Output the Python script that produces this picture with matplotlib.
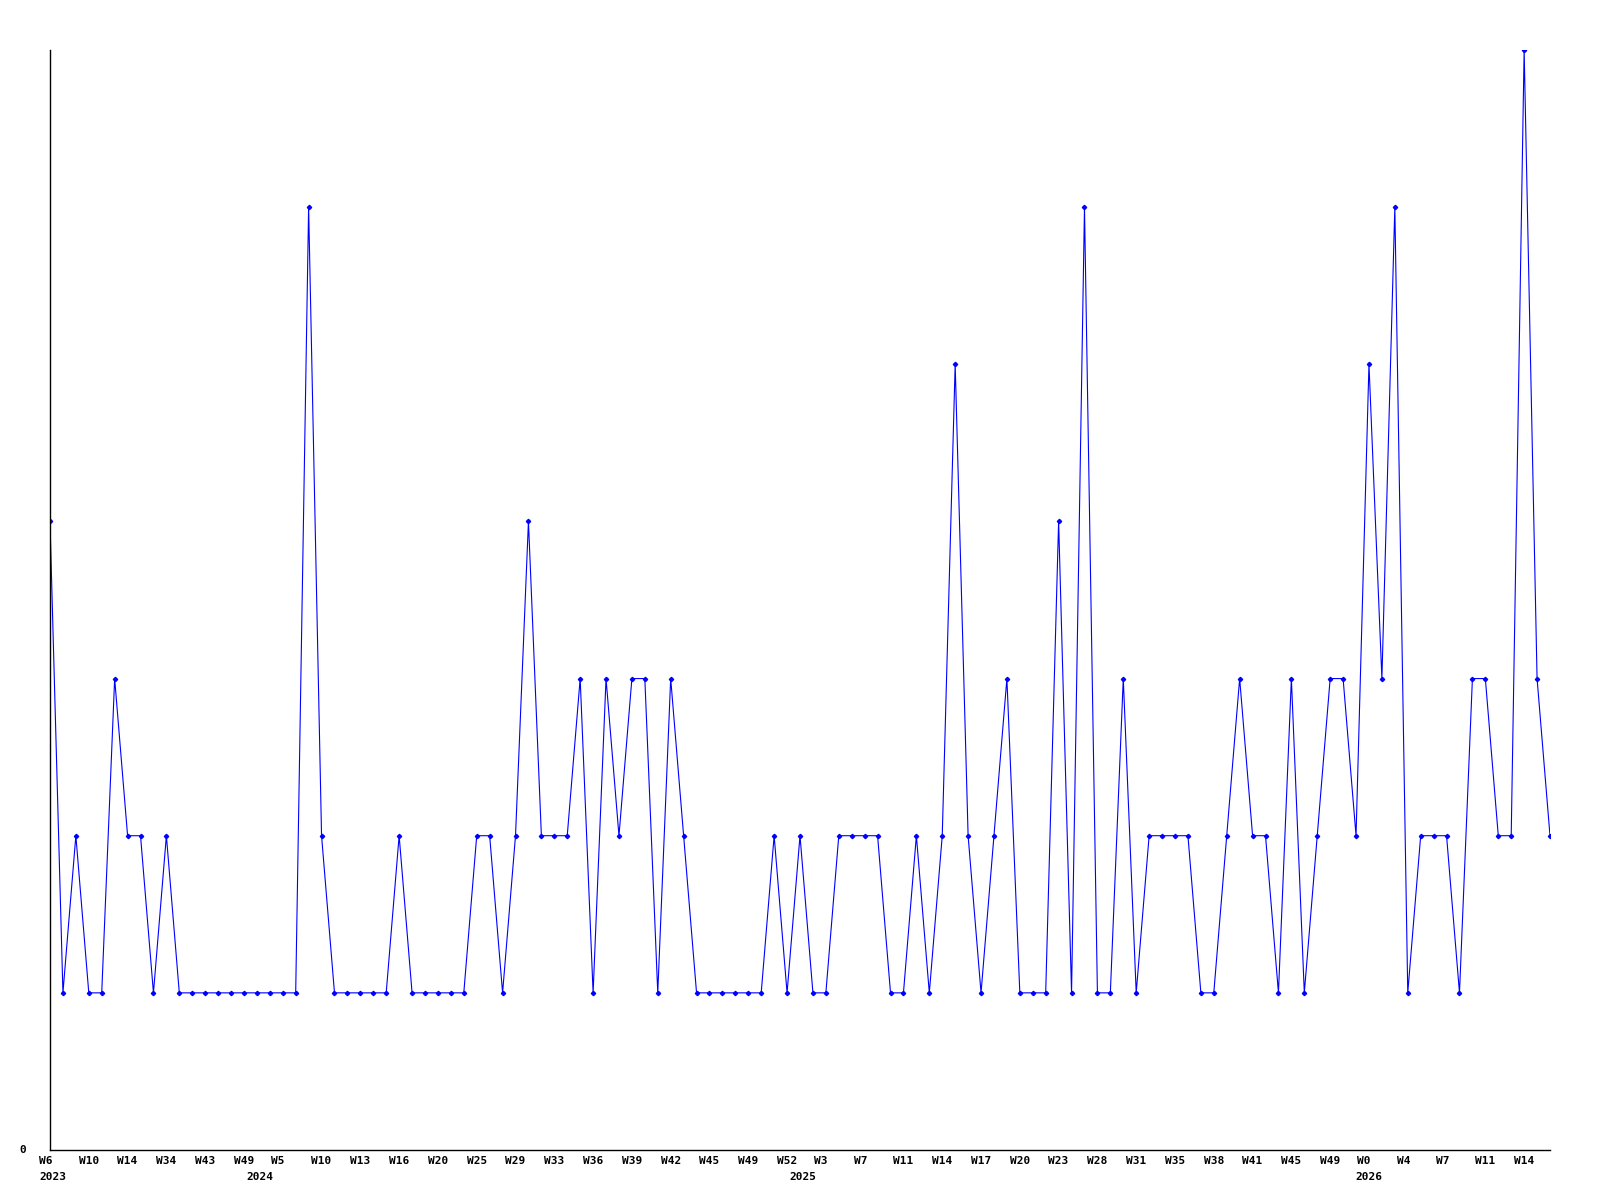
import matplotlib
matplotlib.use("Agg")
import matplotlib.pyplot as plt

# weekly counts, one point per week shown
values = [
    4, 1, 2, 1, 1, 3, 2, 2, 1, 2,
    1, 1, 1, 1, 1, 1, 1, 1, 1, 1,
    6, 2, 1, 1, 1, 1, 1, 2, 1, 1,
    1, 1, 1, 2, 2, 1, 2, 4, 2, 2,
    2, 3, 1, 3, 2, 3, 3, 1, 3, 2,
    1, 1, 1, 1, 1, 1, 2, 1, 2, 1,
    1, 2, 2, 2, 2, 1, 1, 2, 1, 2,
    5, 2, 1, 2, 3, 1, 1, 1, 4, 1,
    6, 1, 1, 3, 1, 2, 2, 2, 2, 1,
    1, 2, 3, 2, 2, 1, 3, 1, 2, 3,
    3, 2, 5, 3, 6, 1, 2, 2, 2, 1,
    3, 3, 2, 2, 7, 3, 2,
]

week_labels = [
    "W6", "W10", "W14", "W34", "W43", "W49", "W5", "W10", "W13", "W16",
    "W20", "W25", "W29", "W33", "W36", "W39", "W42", "W45", "W49", "W52",
    "W3", "W7", "W11", "W14", "W17", "W20", "W23", "W28", "W31", "W35",
    "W38", "W41", "W45", "W49", "W0", "W4", "W7", "W11", "W14",
]
# label positions (in point index), every third point, a bit shifted after new year
week_pos = [
    -0.3, 3, 6, 9, 12, 15, 17.6, 21, 24, 27,
    30, 33, 36, 39, 42, 45, 48, 51, 54, 57,
    59.6, 62.7, 66, 69, 72, 75, 78, 81, 84, 87,
    90, 93, 96, 99, 101.6, 104.7, 107.7, 111, 114,
]
years = ["2023", "2024", "2025", "2026"]
year_pos = [0.2, 16.2, 58.2, 102.0]

x = list(range(len(values)))

fig = plt.figure(figsize=(16, 12), dpi=100)
ax = fig.add_axes([50 / 1600, 50 / 1200, 1500 / 1600, 1100 / 1200])

ax.plot(x, values, color="#0000ff", linewidth=0.8, marker="D", markersize=2.2,
        markerfacecolor="#0000ff", markeredgecolor="#0000ff")

ax.set_xlim(0, len(values) - 1)
ax.set_ylim(0, 7)

for s in ["top", "right"]:
    ax.spines[s].set_visible(False)
ax.spines["left"].set_linewidth(1.0)
ax.spines["bottom"].set_linewidth(1.0)

ax.set_xticks([])
ax.set_yticks([])

font = dict(family="DejaVu Sans Mono", fontsize=8, fontweight="bold", color="black")

ax.text(-2.1, 0, "0", ha="center", va="center", **font)

for pos, lab in zip(week_pos, week_labels):
    ax.text(pos, -0.07, lab, ha="center", va="center", **font)
for pos, lab in zip(year_pos, years):
    ax.text(pos, -0.175, lab, ha="center", va="center", **font)

fig.savefig("out.png", dpi=100)
plt.close(fig)
